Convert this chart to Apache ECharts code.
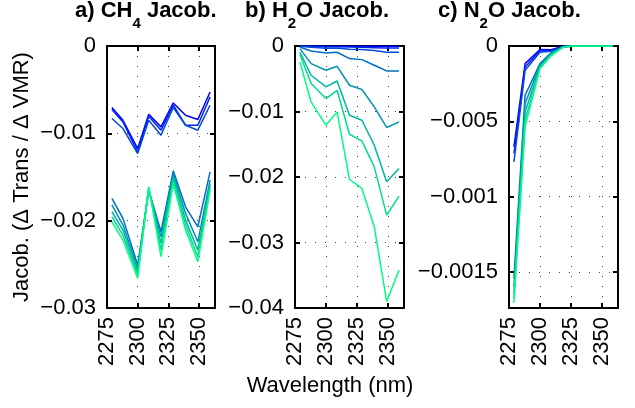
<!DOCTYPE html>
<html><head><meta charset="utf-8">
<script src="https://cdn.jsdelivr.net/npm/echarts@6/dist/echarts.min.js"></script>
<style>html,body{margin:0;padding:0;background:#fff}#c{width:635px;height:408px}</style>
</head><body><div id="c"></div>
<script>
// ---- data ----
const wavelengths = [2279, 2288, 2300, 2309, 2319, 2329, 2339, 2349, 2359];
const xTickValues = [2275, 2300, 2325, 2350];
const xTickLabels = ['2275', '2300', '2325', '2350'];

// a) CH4 Jacobians
const ch4_1 = [-0.00705, -0.00850, -0.01174, -0.00781, -0.00926, -0.00652, -0.00793, -0.00842, -0.00526];
const ch4_2 = [-0.00728, -0.00869, -0.01212, -0.00804, -0.00964, -0.00678, -0.00907, -0.00907, -0.00583];
const ch4_3 = [-0.00830, -0.00945, -0.01231, -0.00850, -0.01021, -0.00705, -0.00907, -0.00964, -0.00678];
const ch4_4 = [-0.01745, -0.01974, -0.02508, -0.01650, -0.02127, -0.01429, -0.01841, -0.02070, -0.01441];
const ch4_5 = [-0.01820, -0.02050, -0.02546, -0.01642, -0.02185, -0.01460, -0.01917, -0.02242, -0.01536];
const ch4_6 = [-0.01898, -0.02108, -0.02585, -0.01631, -0.02260, -0.01498, -0.01994, -0.02337, -0.01582];
const ch4_7 = [-0.01956, -0.02165, -0.02623, -0.01620, -0.02337, -0.01536, -0.02051, -0.02413, -0.01620];
const ch4_8 = [-0.02013, -0.02222, -0.02660, -0.01613, -0.02413, -0.01574, -0.02108, -0.02470, -0.01650];

// b) H2O Jacobians
const h2o_1 = [0, 0, -0.00002, -0.00002, -0.00003, -0.00003, -0.00004, -0.00005, -0.00005];
const h2o_2 = [0, -0.00005, -0.00010, -0.00010, -0.00015, -0.00020, -0.00025, -0.00030, -0.00030];
const h2o_3 = [-0.00005, -0.00020, -0.00035, -0.00030, -0.00050, -0.00055, -0.00070, -0.00095, -0.00095];
const h2o_4 = [-0.00015, -0.00076, -0.00107, -0.00096, -0.00192, -0.00208, -0.00294, -0.00380, -0.00380];
const h2o_5 = [-0.00040, -0.00269, -0.00370, -0.00310, -0.00599, -0.00665, -0.00930, -0.01244, -0.01159];
const h2o_6 = [-0.00091, -0.00447, -0.00625, -0.00534, -0.01057, -0.01133, -0.01514, -0.02074, -0.01870];
const h2o_7 = [-0.00126, -0.00574, -0.00803, -0.00676, -0.01347, -0.01448, -0.01845, -0.02582, -0.02292];
const h2o_8 = [-0.00244, -0.00854, -0.01209, -0.01006, -0.02038, -0.02175, -0.02760, -0.03900, -0.03420];

// c) N2O Jacobians
const n2o_1 = [-0.000670, -0.000117, -0.000024, -0.000025, -0.000002, 0, 0, 0, 0];
const n2o_2 = [-0.000714, -0.000139, -0.000033, -0.000030, -0.000002, 0, 0, 0, 0];
const n2o_3 = [-0.000770, -0.000161, -0.000042, -0.000035, -0.000003, 0, 0, 0, 0];
const n2o_4 = [-0.001544, -0.000327, -0.000117, -0.000045, -0.000005, 0, 0, 0, 0];
const n2o_5 = [-0.001599, -0.000382, -0.000126, -0.000050, -0.000005, 0, 0, 0, 0];
const n2o_6 = [-0.001643, -0.000438, -0.000135, -0.000055, -0.000005, 0, 0, 0, 0];
const n2o_7 = [-0.001676, -0.000493, -0.000143, -0.000060, -0.000005, 0, 0, 0, 0];
const n2o_8 = [-0.001705, -0.000537, -0.000150, -0.000065, -0.000005, 0, 0, 0, 0];

// y tick values / labels
const yTicksA = [0, -0.01, -0.02, -0.03];
const yLabelsA = ['0', '\u22120.01', '\u22120.02', '\u22120.03'];
const yTicksB = [0, -0.01, -0.02, -0.03, -0.04];
const yLabelsB = ['0', '\u22120.01', '\u22120.02', '\u22120.03', '\u22120.04'];
const yTicksC = [0, -0.0005, -0.001, -0.0015];
const yLabelsC = ['0', '\u22120.005', '\u22120.001', '\u22120.0015'];

const titlesText = [['a) CH', '4', ' Jacob.'], ['b) H', '2', 'O Jacob.'], ['c) N', '2', 'O Jacob.']];
const xAxisTitle = 'Wavelength (nm)';
const yAxisTitle = 'Jacob. (\u0394 Trans / \u0394 VMR)';

// ---- styles ----
const palette = ['#0000ff', '#0024ed', '#0049db', '#006dc8', '#0092b6', '#00b6a4', '#00db92', '#00ff80'];
const FONT = '"Liberation Sans", Arial, Helvetica, sans-serif';
const panels = [
  { series: [ch4_1, ch4_2, ch4_3, ch4_4, ch4_5, ch4_6, ch4_7, ch4_8], ticks: yTicksA, labels: yLabelsA, min: -0.03, interval: 0.01, inv: false,
    grid: { left: 107, top: 46, width: 108, height: 262 }, titleLeft: 75 },
  { series: [h2o_1, h2o_2, h2o_3, h2o_4, h2o_5, h2o_6, h2o_7, h2o_8], ticks: yTicksB, labels: yLabelsB, min: -0.04, interval: 0.01, inv: false,
    grid: { left: 295, top: 46, width: 109, height: 262 }, titleLeft: 245 },
  { series: [n2o_1, n2o_2, n2o_3, n2o_4, n2o_5, n2o_6, n2o_7, n2o_8], ticks: yTicksC, labels: yLabelsC, min: -0.00174, interval: 0.0005, inv: true,
    grid: { left: 509, top: 46, width: 109, height: 262 }, titleLeft: 438 }
];

const dotted = { show: true, lineStyle: { color: '#444', width: 1, type: [1, 9] } };
const axLine = { show: true, onZero: false, lineStyle: { color: '#000', width: 2 } };
const axTick = { show: true, inside: true, length: 5, lineStyle: { color: '#000', width: 2 } };

function lookup(ticks, labels, v, sign) {
  for (let i = 0; i < ticks.length; i++) if (Math.abs(sign * ticks[i] - v) < 1e-9) return labels[i];
  return '';
}

const option = { animation: false, grid: [], xAxis: [], yAxis: [], series: [], title: [],
  graphic: [
    { type: 'text', x: 330, y: 386, style: { text: xAxisTitle, font: '22px ' + FONT, fill: '#000', align: 'center', verticalAlign: 'middle' } },
    { type: 'text', x: 22, y: 177, rotation: Math.PI / 2, style: { text: yAxisTitle, font: '22px ' + FONT, fill: '#000', align: 'center', verticalAlign: 'middle' } }
  ] };

panels.forEach((p, gi) => {
  option.grid.push(Object.assign({ containLabel: false }, p.grid));
  const xBase = { type: 'value', gridIndex: gi, min: 2275, max: 2363, interval: 25, axisLine: axLine, axisTick: axTick };
  option.xAxis.push(Object.assign({}, xBase, { position: 'bottom', splitLine: dotted,
    axisLabel: { show: true, rotate: 90, margin: 9, fontSize: 22, fontFamily: FONT, color: '#000',
      formatter: v => lookup(xTickValues, xTickLabels, v, 1) } }));
  option.xAxis.push(Object.assign({}, xBase, { position: 'top', splitLine: { show: false }, axisLabel: { show: false } }));
  // Panel c uses an inverted magnitude axis so ticks start at 0
  const yBase = p.inv
    ? { type: 'value', gridIndex: gi, min: 0, max: -p.min, interval: p.interval, inverse: true, axisLine: axLine, axisTick: axTick }
    : { type: 'value', gridIndex: gi, min: p.min, max: 0, interval: p.interval, axisLine: axLine, axisTick: axTick };
  const sign = p.inv ? -1 : 1;
  option.yAxis.push(Object.assign({}, yBase, { position: 'left', splitLine: dotted,
    axisLabel: { show: true, margin: 11, fontSize: 22, fontFamily: FONT, color: '#000',
      formatter: v => lookup(p.ticks, p.labels, v, sign) } }));
  option.yAxis.push(Object.assign({}, yBase, { position: 'right', splitLine: { show: false }, axisLabel: { show: false } }));
  p.series.forEach((vals, si) => {
    option.series.push({ type: 'line', xAxisIndex: gi * 2, yAxisIndex: gi * 2, symbol: 'none', silent: true,
      lineStyle: { color: palette[si], width: 1.5 }, itemStyle: { color: palette[si] },
      data: wavelengths.map((w, k) => [w, sign * vals[k]]) });
  });
  const t = titlesText[gi];
  option.title.push({ text: '{t|' + t[0] + '}{s|' + t[1] + '}{t|' + t[2] + '}', left: p.titleLeft, top: -9, padding: 0,
    textStyle: { rich: {
      t: { fontSize: 22, fontWeight: 'bold', fontFamily: FONT, color: '#000' },
      s: { fontSize: 15, fontWeight: 'bold', fontFamily: FONT, color: '#000', padding: [25, 0, 0, 0] } } } });
});

const chart = echarts.init(document.getElementById('c'), null, { renderer: 'canvas' });
chart.setOption(option);
</script></body></html>
